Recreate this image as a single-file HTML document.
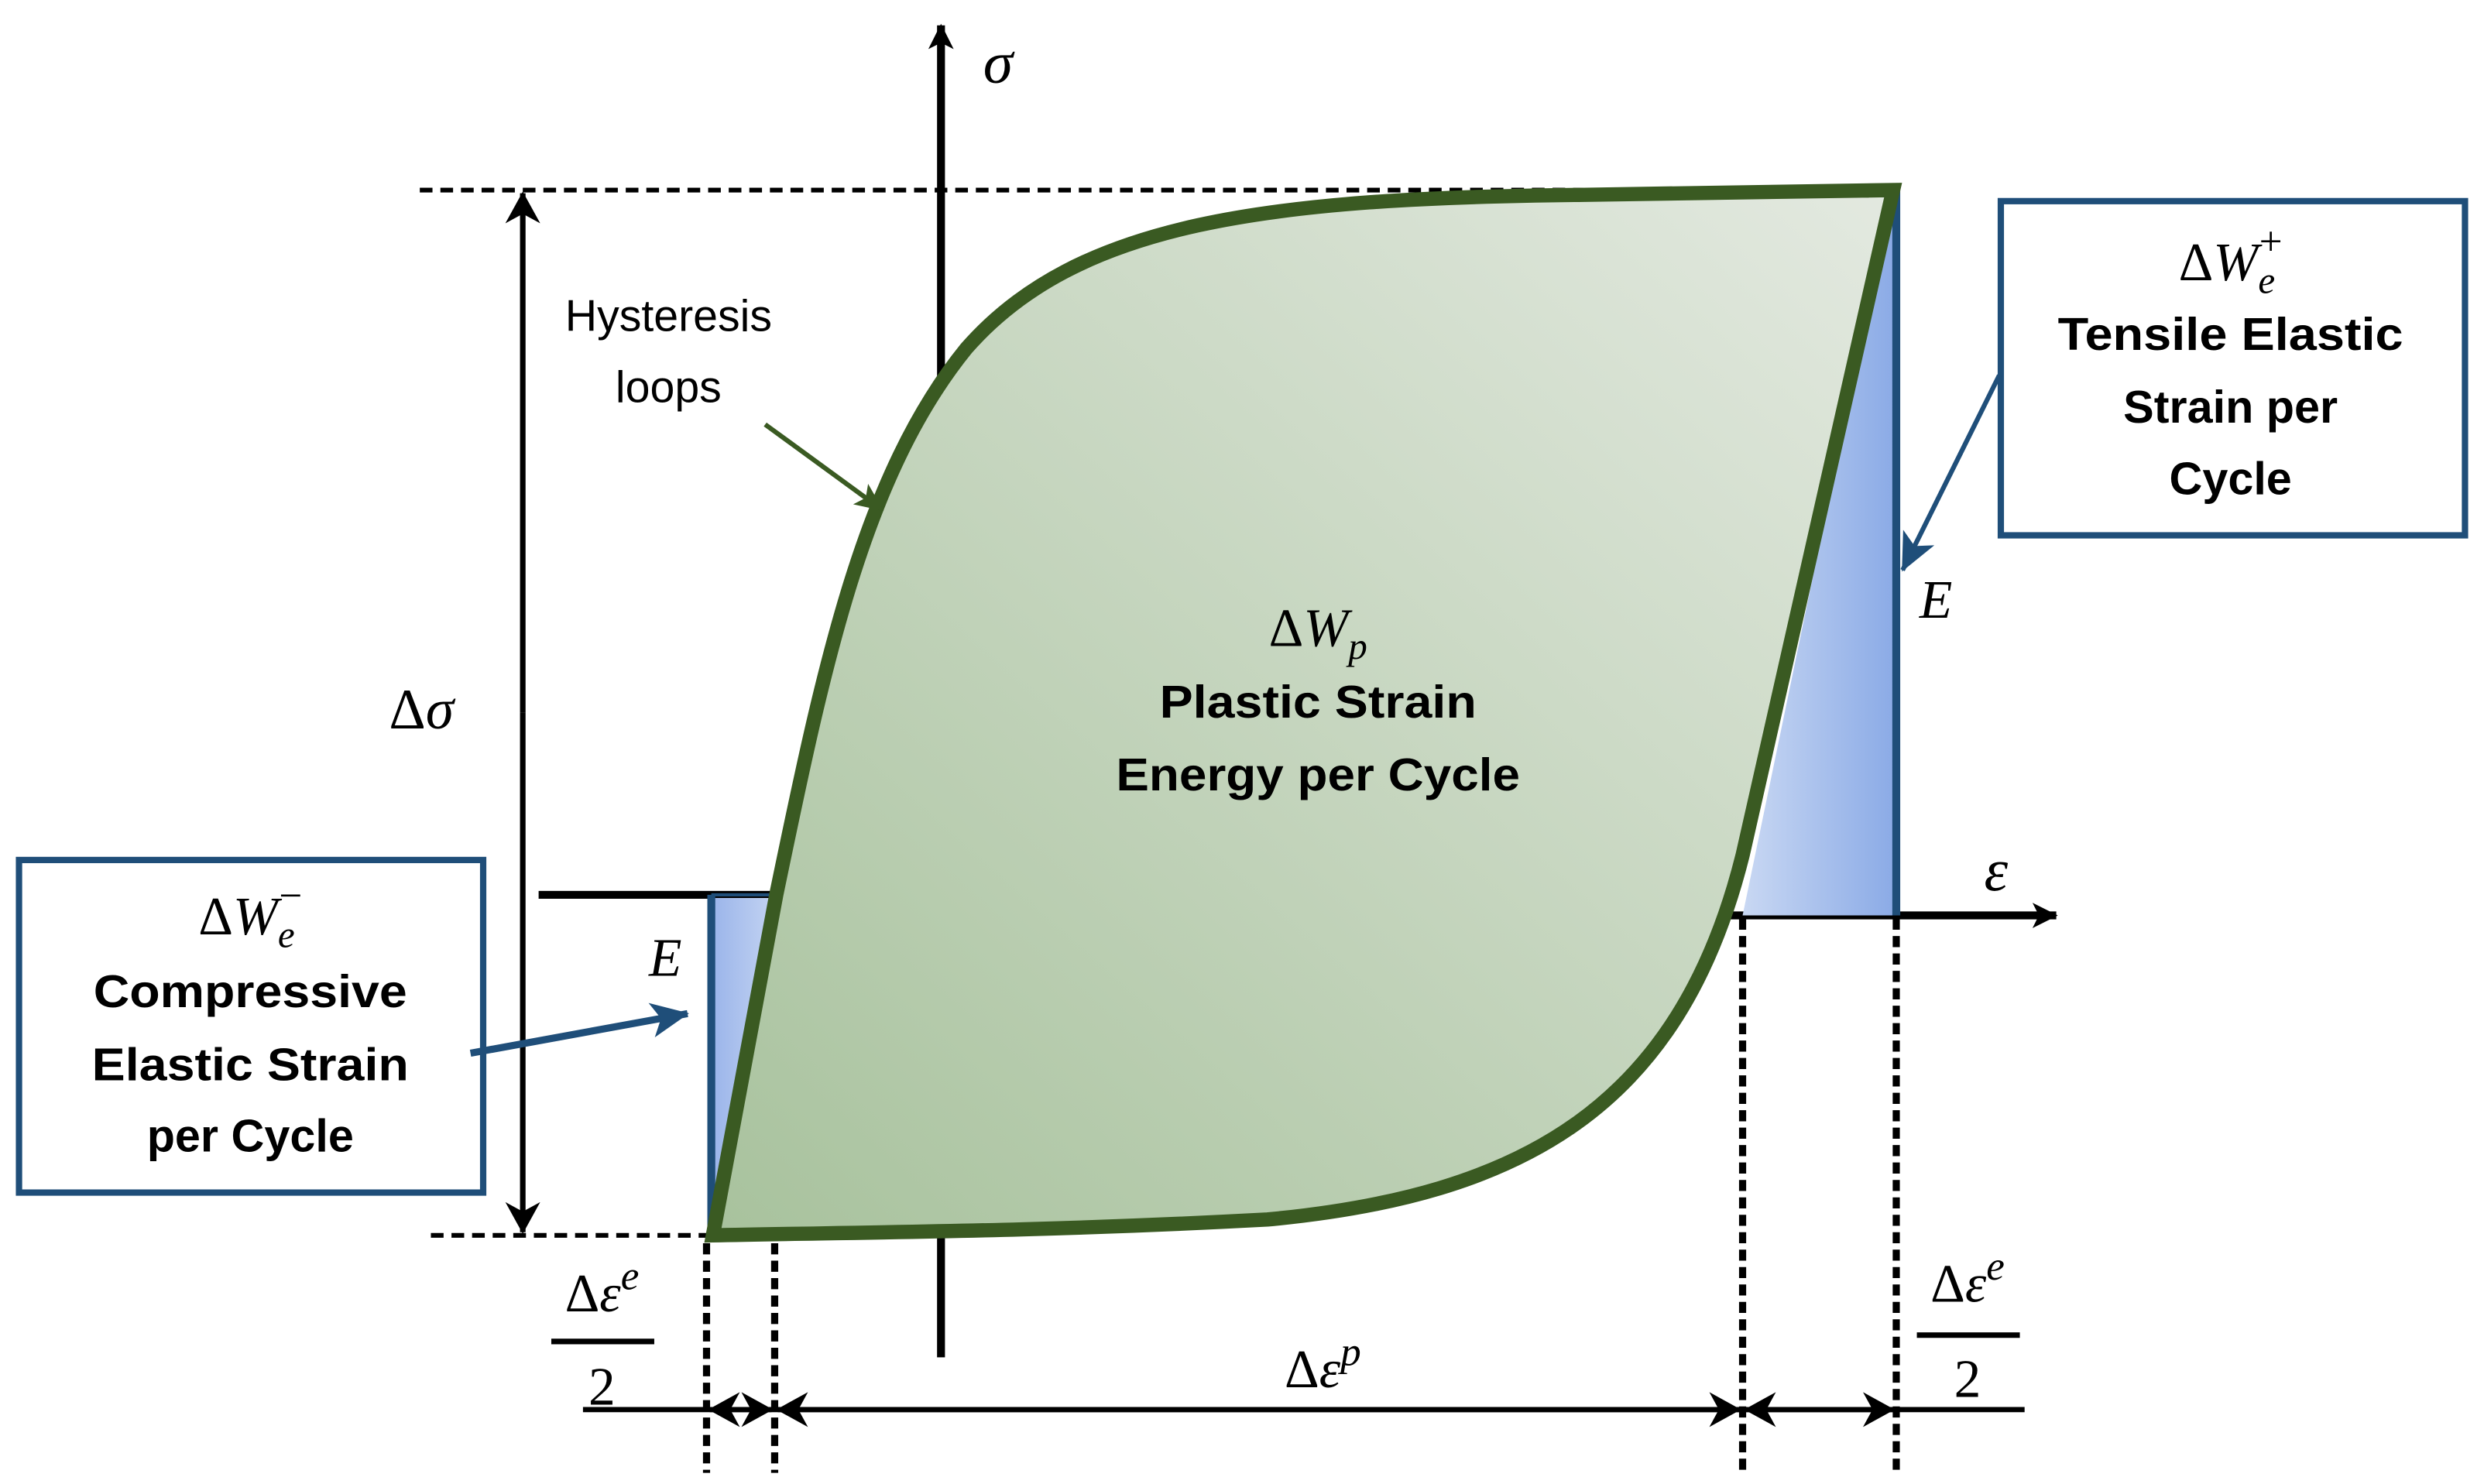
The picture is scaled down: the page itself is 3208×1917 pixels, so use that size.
<!DOCTYPE html>
<html><head><meta charset="utf-8"><style>html,body{margin:0;padding:0;background:#fff}svg{display:block}</style></head>
<body>
<svg width="3208" height="1917" viewBox="0 0 1568 937" preserveAspectRatio="none" xmlns="http://www.w3.org/2000/svg">
<defs>
<linearGradient id="g" x1="1" y1="0" x2="0" y2="1"><stop offset="0" stop-color="#e3e9e0"/><stop offset="1" stop-color="#a8c29d"/></linearGradient>
<linearGradient id="b" x1="0" y1="0" x2="1" y2="0"><stop offset="0" stop-color="#c9d8f3"/><stop offset="1" stop-color="#8aaae6"/></linearGradient>
<linearGradient id="b2" x1="0" y1="0" x2="1" y2="0"><stop offset="0" stop-color="#9ab4ea"/><stop offset="1" stop-color="#c4d4f2"/></linearGradient>
<marker id="ak" markerWidth="20" markerHeight="22" refX="19" refY="11" orient="auto" markerUnits="userSpaceOnUse"><path d="M0,0 L20,11 L0,22 L6,11z" fill="#000"/></marker>
<marker id="ak2" markerWidth="16" markerHeight="16" refX="15" refY="8" orient="auto" markerUnits="userSpaceOnUse"><path d="M0,0 L16,8 L0,16 L4,8z" fill="#000"/></marker>
<marker id="ab" markerWidth="24" markerHeight="22" refX="23" refY="11" orient="auto" markerUnits="userSpaceOnUse"><path d="M0,0 L24,11 L0,22 L6,11z" fill="#1f4e79"/></marker>
<marker id="ag" markerWidth="18" markerHeight="16" refX="17" refY="8" orient="auto" markerUnits="userSpaceOnUse"><path d="M0,0 L18,8 L0,16 L4,8z" fill="#3a5a22"/></marker>
</defs>
<line x1="594" y1="857" x2="594" y2="16" stroke="#000" stroke-width="5" marker-end="url(#ak2)"/>
<line x1="1085" y1="578" x2="1298" y2="578" stroke="#000" stroke-width="5" marker-end="url(#ak2)"/>
<line x1="340" y1="565" x2="488" y2="565" stroke="#000" stroke-width="5"/>
<g stroke="#000" stroke-width="3" stroke-dasharray="8,5" fill="none">
<line x1="265" y1="120" x2="1195" y2="120"/>
<line x1="272" y1="780" x2="450" y2="780"/>
</g>
<g stroke="#000" stroke-width="4.5" stroke-dasharray="7,4" fill="none">
<line x1="446" y1="785" x2="446" y2="930"/>
<line x1="489" y1="785" x2="489" y2="930"/>
<line x1="1100" y1="580" x2="1100" y2="930"/>
<line x1="1197" y1="580" x2="1197" y2="930"/>
</g>
<line x1="330" y1="450" x2="330" y2="122" stroke="#000" stroke-width="3.5" marker-end="url(#ak)"/>
<line x1="330" y1="450" x2="330" y2="778" stroke="#000" stroke-width="3.5" marker-end="url(#ak)"/>
<polygon points="1195,120 1197,578 1100,578" fill="url(#b)"/>
<line x1="1197" y1="118" x2="1197" y2="578" stroke="#1f4e79" stroke-width="5"/>
<polygon points="449,567 490,567 449,780" fill="url(#b2)"/>
<line x1="449" y1="565" x2="449" y2="780" stroke="#1f4e79" stroke-width="5"/>
<line x1="449" y1="565" x2="490" y2="565" stroke="#1f4e79" stroke-width="2"/>
<path d="M450,780 L490,565 C520,420 545,300 610,220 C680,140 800,125 1000,123 L1195,120 L1100,540 C1060,700 960,755 800,770 C650,778 540,778 450,780 Z" fill="url(#g)" stroke="#3a5a22" stroke-width="9" stroke-linejoin="miter"/>
<line x1="368" y1="890" x2="1278" y2="890" stroke="#000" stroke-width="3.3"/>
<line x1="468" y1="890" x2="448" y2="890" stroke="#000" stroke-width="3.3" marker-end="url(#ak)"/>
<line x1="468" y1="890" x2="487" y2="890" stroke="#000" stroke-width="3.3" marker-end="url(#ak)"/>
<line x1="790" y1="890" x2="491" y2="890" stroke="#000" stroke-width="3.3" marker-end="url(#ak)"/>
<line x1="790" y1="890" x2="1098" y2="890" stroke="#000" stroke-width="3.3" marker-end="url(#ak)"/>
<line x1="1148" y1="890" x2="1102" y2="890" stroke="#000" stroke-width="3.3" marker-end="url(#ak)"/>
<line x1="1148" y1="890" x2="1195" y2="890" stroke="#000" stroke-width="3.3" marker-end="url(#ak)"/>
<line x1="348" y1="847" x2="413" y2="847" stroke="#000" stroke-width="3.5"/>
<line x1="1210" y1="843" x2="1275" y2="843" stroke="#000" stroke-width="3.5"/>
<rect x="1263" y="127" width="293" height="211" fill="#fff" stroke="#1f4e79" stroke-width="4"/>
<rect x="12" y="543" width="293" height="210" fill="#fff" stroke="#1f4e79" stroke-width="4"/>
<line x1="1262" y1="237" x2="1201" y2="360" stroke="#1f4e79" stroke-width="3" marker-end="url(#ab)"/>
<line x1="297" y1="665" x2="434" y2="640" stroke="#1f4e79" stroke-width="4.5" marker-end="url(#ab)"/>
<line x1="483" y1="268" x2="557" y2="322" stroke="#3a5a22" stroke-width="3" marker-end="url(#ag)"/>
<g font-family="Liberation Serif, serif" font-style="italic" fill="#000" text-anchor="middle">
<text x="630" y="52" font-size="38">σ</text>
<text x="1260" y="562" font-size="38">ε</text>
<text x="1222" y="390" font-size="34">E</text>
<text x="420" y="616" font-size="34">E</text>
<text x="266" y="460" font-size="36"><tspan font-style="normal">Δ</tspan>σ</text>
<text x="832" y="408" font-size="34"><tspan font-style="normal">Δ</tspan>W<tspan font-size="24" dy="8">p</tspan></text>
<text x="1408" y="177" font-size="34"><tspan font-style="normal">Δ</tspan>W<tspan font-size="24" dy="8">e</tspan><tspan font-size="26" font-style="normal" dx="-10" dy="-24">+</tspan></text>
<text x="158" y="590" font-size="34"><tspan font-style="normal">Δ</tspan>W<tspan font-size="24" dy="8">e</tspan><tspan font-size="26" font-style="normal" dx="-10" dy="-24">−</tspan></text>
<text x="380" y="828" font-size="34"><tspan font-style="normal">Δ</tspan>ε<tspan font-size="26" dy="-14">e</tspan></text>
<text x="380" y="887" font-size="34" font-style="normal">2</text>
<text x="1242" y="822" font-size="34"><tspan font-style="normal">Δ</tspan>ε<tspan font-size="26" dy="-14">e</tspan></text>
<text x="1242" y="882" font-size="34" font-style="normal">2</text>
<text x="835" y="876" font-size="34"><tspan font-style="normal">Δ</tspan>ε<tspan font-size="26" dy="-14">p</tspan></text>
</g>
<g font-family="Liberation Sans, sans-serif" fill="#000" text-anchor="middle">
<text x="422" y="209" font-size="28">Hysteresis</text>
<text x="422" y="254" font-size="28">loops</text>
<g font-weight="bold" font-size="29">
<text x="832" y="453" textLength="200" lengthAdjust="spacingAndGlyphs">Plastic Strain</text>
<text x="832" y="499" textLength="255" lengthAdjust="spacingAndGlyphs">Energy per Cycle</text>
<text x="1408" y="221" textLength="218" lengthAdjust="spacingAndGlyphs">Tensile Elastic</text>
<text x="1408" y="267">Strain per</text>
<text x="1408" y="312">Cycle</text>
<text x="158" y="636" textLength="198" lengthAdjust="spacingAndGlyphs">Compressive</text>
<text x="158" y="682" textLength="200" lengthAdjust="spacingAndGlyphs">Elastic Strain</text>
<text x="158" y="727">per Cycle</text>
</g>
</g>
</svg>
</body></html>
